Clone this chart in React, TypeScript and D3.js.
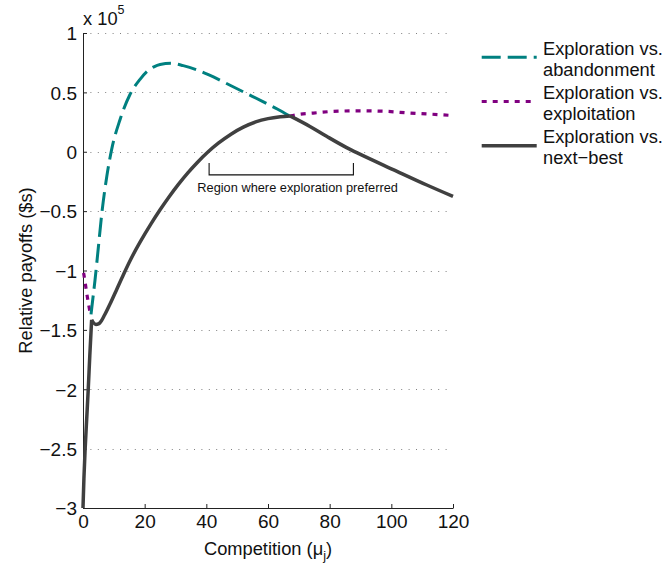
import React, {useEffect, useRef} from "react";
import * as d3 from "d3";

// ---------------- data (values x 10^5) ----------------
const xTicks = [0, 20, 40, 60, 80, 100, 120];
const yTicks = [1, 0.5, 0, -0.5, -1, -1.5, -2, -2.5, -3];

// Exploration vs. abandonment (teal dashed)
const abandonX = [2.6, 3.0, 3.9, 5.0, 6.1, 7.7, 9.3, 12, 15.2, 18.5, 20.7, 23, 25, 28.5, 32.5, 36.9, 42.3, 47.7, 53.1, 58.5, 63, 67.1];
const abandonY = [-1.37, -1.28, -1.08, -0.8, -0.52, -0.21, 0.02, 0.27, 0.48, 0.61, 0.675, 0.715, 0.735, 0.745, 0.725, 0.69, 0.63, 0.56, 0.49, 0.42, 0.36, 0.30];

// Exploration vs. exploitation (purple dotted), NaN = gap
const exploitX = [0.2, 0.7, 1.2, 1.8, 2.3, 2.6, NaN, 67.1, 70, 74.7, 81.2, 89.8, 98.5, 106, 112.5, 120];
const exploitY = [-1.02, -1.1, -1.19, -1.28, -1.35, -1.37, NaN, 0.30, 0.315, 0.326, 0.34, 0.345, 0.34, 0.326, 0.317, 0.305];

// Exploration vs. next-best (dark solid)
const nextBestX = [0, 0.3, 0.7, 1.2, 1.7, 2.2, 2.8, 3.4, 4.2, 5.0, 5.5, 7, 8.8, 11, 13.1, 15.5, 18.5, 22, 25, 28, 31, 34, 37, 40.6, 44, 48, 52, 56, 60, 64, 67.1, 73.6, 79, 85.5, 89.8, 100.6, 111.5, 120];
const nextBestY = [-3.0, -2.75, -2.5, -2.25, -2.0, -1.72, -1.415, -1.44, -1.455, -1.45, -1.44, -1.375, -1.28, -1.155, -1.035, -0.905, -0.762, -0.61, -0.489, -0.377, -0.273, -0.178, -0.092, 0.0, 0.074, 0.148, 0.207, 0.251, 0.279, 0.295, 0.302, 0.213, 0.13, 0.035, -0.02, -0.15, -0.28, -0.376];
const nextBestKinks = [2.8, 67.1];

// bracket "Region where exploration preferred"
const regionX = [40.9, 87.7];
const regionY = [-0.095, -0.195];
const regionLabelY = -0.337;

const legendItems = [
    {l1: "Exploration vs.", l2: "abandonment", color: "#008080", dash: "19,7", width: 3},
    {l1: "Exploration vs.", l2: "exploitation", color: "#800080", dash: "5,6", width: 3.2},
    {l1: "Exploration vs.", l2: "next\u2212best", color: "#404040", dash: null, width: 3.5}
];

const FONT = "'Liberation Sans', Arial, Helvetica, sans-serif";
const TICK_FS = 19, LABEL_FS = 18.3;

function toPoints(xs: number[], ys: number[]) {
    return xs.map((x, i) => ({x, y: ys[i]}));
}

function draw(svgEl: SVGSVGElement) {
    const svg = d3.select(svgEl);
    svg.selectAll("*").remove();

    const margin = {left: 83, top: 33, right: 212, bottom: 61};
    const width = 665 - margin.left - margin.right,
          height = 569 - margin.top - margin.bottom;

    const x = d3.scaleLinear().domain([0, 120]).range([0, width]),
          y = d3.scaleLinear().domain([-3, 1]).range([height, 0]);

    const g = svg.append("g").attr("transform", `translate(${margin.left},${margin.top})`);

    // dotted grid
    g.selectAll(".grid")
        .data(yTicks.filter(d => d > -3))
        .enter().append("line")
            .attr("class", "grid")
            .attr("x1", 0).attr("x2", width)
            .attr("y1", d => Math.round(y(d)) + 0.5)
            .attr("y2", d => Math.round(y(d)) + 0.5)
            .attr("stroke", "#808080")
            .attr("stroke-width", 1)
            .attr("stroke-dasharray", "1,6.4");

    // axes
    const xAxis = d3.axisBottom(x).tickValues(xTicks).tickSizeInner(-4).tickSizeOuter(0).tickPadding(7)
                    .tickFormat(d => String(d));
    const yAxis = d3.axisLeft(y).tickValues(yTicks).tickSizeInner(-4).tickSizeOuter(0).tickPadding(6)
                    .tickFormat(d => d3.format("")(d as number).replace("-", "\u2212"));

    const gx = g.append("g").attr("transform", `translate(0,${height})`).call(xAxis);
    const gy = g.append("g").call(yAxis);
    [gx, gy].forEach(a => {
        a.select(".domain").attr("stroke", "#222");
        a.selectAll(".tick line").attr("stroke", "#222");
        a.selectAll("text").attr("font-family", FONT).attr("font-size", TICK_FS).attr("fill", "#111");
    });
    gy.selectAll("text").attr("dy", "0.36em");

    // series
    const line = d3.line<{x: number, y: number}>()
        .defined(d => !isNaN(d.y))
        .x(d => x(d.x)).y(d => y(d.y))
        .curve(d3.curveMonotoneX);

    g.append("path")
        .datum(toPoints(exploitX, exploitY))
        .attr("fill", "none")
        .attr("stroke", legendItems[1].color)
        .attr("stroke-width", legendItems[1].width)
        .attr("stroke-dasharray", legendItems[1].dash)
        .attr("d", line);

    g.append("path")
        .datum(toPoints(abandonX, abandonY))
        .attr("fill", "none")
        .attr("stroke", legendItems[0].color)
        .attr("stroke-width", legendItems[0].width)
        .attr("stroke-dasharray", legendItems[0].dash)
        .attr("d", line);

    // next-best: split at the kinks so they stay sharp
    const nb = toPoints(nextBestX, nextBestY);
    let segs: {x: number, y: number}[][] = [[]];
    nb.forEach(p => {
        segs[segs.length - 1].push(p);
        if (nextBestKinks.includes(p.x)) segs.push([p]);
    });
    g.selectAll(".nb")
        .data(segs)
        .enter().append("path")
            .attr("class", "nb")
            .attr("fill", "none")
            .attr("stroke", legendItems[2].color)
            .attr("stroke-width", legendItems[2].width)
            .attr("stroke-linejoin", "round")
            .attr("d", d => line(d));

    // bracket annotation
    const bx1 = x(regionX[0]), bx2 = x(regionX[1]),
          byTop = y(regionY[0]), byBot = y(regionY[1]);
    g.append("path")
        .attr("d", `M${bx1},${byTop}V${byBot}H${bx2}V${byTop}`)
        .attr("fill", "none")
        .attr("stroke", "#111")
        .attr("stroke-width", 1.1);
    g.append("text")
        .attr("x", x(69.6)).attr("y", y(regionLabelY))
        .attr("text-anchor", "middle")
        .attr("font-family", FONT).attr("font-size", 12.8)
        .attr("fill", "#111")
        .text("Region where exploration preferred");

    // exponent
    const ex = g.append("text").attr("x", 0).attr("y", -8)
        .attr("font-family", FONT).attr("font-size", LABEL_FS).attr("fill", "#111");
    ex.append("tspan").text("x 10");
    ex.append("tspan").attr("dy", -11).attr("font-size", 12.5).text("5");

    // axis labels
    const xl = svg.append("text")
        .attr("x", margin.left + width / 2).attr("y", 555)
        .attr("text-anchor", "middle")
        .attr("font-family", FONT).attr("font-size", LABEL_FS).attr("fill", "#111");
    xl.append("tspan").text("Competition (\u03bc");
    xl.append("tspan").attr("dy", 5).attr("font-size", 12.5).text("j");
    xl.append("tspan").attr("dy", -5).text(")");

    svg.append("text")
        .attr("transform", `translate(32,${margin.top + height / 2}) rotate(-90)`)
        .attr("text-anchor", "middle")
        .attr("font-family", FONT).attr("font-size", LABEL_FS).attr("fill", "#111")
        .text("Relative payoffs ($s)");

    // legend
    const lg = svg.append("g");
    legendItems.forEach((it, i) => {
        const ly = 57.3 + i * 44.2;
        lg.append("line")
            .attr("x1", 481.7).attr("x2", 536.7)
            .attr("y1", ly).attr("y2", ly)
            .attr("stroke", it.color)
            .attr("stroke-width", it.width)
            .attr("stroke-dasharray", it.dash);
        lg.append("text").attr("x", 543).attr("y", ly - 2.5)
            .attr("font-family", FONT).attr("font-size", LABEL_FS).attr("fill", "#111").text(it.l1);
        lg.append("text").attr("x", 543).attr("y", ly + 18.5)
            .attr("font-family", FONT).attr("font-size", LABEL_FS).attr("fill", "#111").text(it.l2);
    });
}

export default function App() {
    const ref = useRef<SVGSVGElement>(null);
    useEffect(() => { if (ref.current) draw(ref.current); }, []);
    return (
        <svg ref={ref} width={665} height={569}
             style={{position: "absolute", left: 0, top: 0, background: "#fff"}} />
    );
}
